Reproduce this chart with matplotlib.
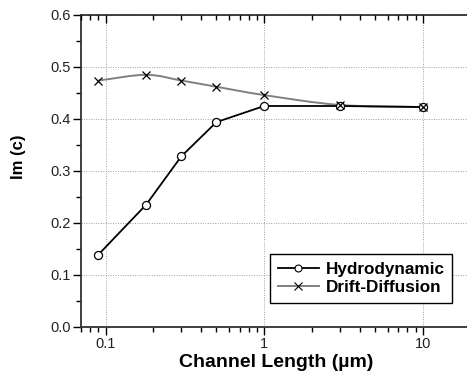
import numpy as np
import matplotlib
matplotlib.use("Agg")
import matplotlib.pyplot as plt
from matplotlib.path import Path
from matplotlib.patches import PathPatch
from matplotlib.lines import Line2D
from matplotlib.ticker import MultipleLocator, LogLocator, FixedLocator, NullFormatter

plt.rcParams['font.family'] = ['Liberation Sans', 'DejaVu Sans']

# channel length in um
length = [0.09, 0.18, 0.3, 0.5, 1.0, 3.0, 10.0]
hydro = [0.139, 0.235, 0.328, 0.394, 0.425, 0.425, 0.423]
drift = [0.474, 0.485, 0.474, 0.462, 0.446, 0.427, 0.423]

x_ticks = [0.1, 1, 10]
x_ticklabels = ["0.1", "1", "10"]


def smooth_path(xs, ys):
    """Catmull-Rom curve through the points, built in log-x space as cubic Beziers."""
    lx = np.log10(xs)
    y = np.asarray(ys, float)
    pts = np.column_stack([lx, y])
    ext = np.vstack([2 * pts[0] - pts[1], pts, 2 * pts[-1] - pts[-2]])
    verts = [pts[0]]
    codes = [Path.MOVETO]
    for i in range(1, len(ext) - 2):
        p0, p1, p2, p3 = ext[i - 1], ext[i], ext[i + 1], ext[i + 2]
        c1 = p1 + (p2 - p0) / 6.0
        c2 = p2 - (p3 - p1) / 6.0
        verts += [c1, c2, p2]
        codes += [Path.CURVE4] * 3
    verts = np.array(verts)
    verts[:, 0] = 10 ** verts[:, 0]
    return Path(verts, codes)


fig = plt.figure(figsize=(4.67, 3.73), dpi=100)
ax = fig.add_axes([81 / 467, 1 - 327 / 373, (470.5 - 81) / 467, 312 / 373])
ax.set_xscale("log")
ax.set_xlim(0.07, 20)
ax.set_ylim(0.0, 0.6)

ax.grid(True, which="major", color="#a0a0a0", linestyle=(0, (1, 1.5)), linewidth=0.7)
ax.set_axisbelow(True)

# drift-diffusion: smooth grey curve with x markers
ax.add_patch(PathPatch(smooth_path(length, drift), facecolor="none",
                       edgecolor="#808080", linewidth=1.4, zorder=2))
ax.plot(length, drift, linestyle="none", marker="x", markersize=6,
        markeredgecolor="black", markeredgewidth=0.9, zorder=4)

# hydrodynamic: straight segments with open circles
ax.plot(length, hydro, color="black", linewidth=1.3, marker="o", markersize=5.8,
        markerfacecolor="white", markeredgecolor="black", markeredgewidth=0.9, zorder=3)

ax.yaxis.set_major_locator(MultipleLocator(0.1))
ax.yaxis.set_minor_locator(MultipleLocator(0.05))
ax.xaxis.set_major_locator(FixedLocator(x_ticks))
ax.set_xticklabels(x_ticklabels)
ax.xaxis.set_minor_locator(LogLocator(base=10, subs=np.arange(2, 10)))
ax.xaxis.set_minor_formatter(NullFormatter())

ax.tick_params(axis="both", which="major", length=5.5, width=1, labelsize=10.5,
               direction="out", pad=2, labelcolor="#222222")
ax.tick_params(axis="both", which="minor", length=3.5, width=1, direction="out")
ax.set_yticklabels([f"{v:.1f}" for v in ax.get_yticks()])

for side in ("left", "top", "bottom"):
    ax.spines[side].set_color("#303030")
    ax.spines[side].set_linewidth(1.3)
ax.spines["right"].set_visible(False)

# top axis: ticks pointing inward, no labels
top = ax.twiny()
top.set_xscale("log")
top.set_xlim(ax.get_xlim())
top.xaxis.set_major_locator(FixedLocator(x_ticks))
top.xaxis.set_minor_locator(LogLocator(base=10, subs=np.arange(2, 10)))
top.xaxis.set_major_formatter(NullFormatter())
top.xaxis.set_minor_formatter(NullFormatter())
top.tick_params(axis="x", which="major", length=5.5, width=1, direction="in")
top.tick_params(axis="x", which="minor", length=3.5, width=1, direction="in")
for side in ("left", "right", "bottom", "top"):
    top.spines[side].set_visible(False)

ax.set_xlabel("Channel Length (\u00b5m)", fontsize=14, fontweight="bold", labelpad=2)
ax.set_ylabel("Im (c)", fontsize=12, fontweight="bold")
ax.yaxis.set_label_coords(-0.142, 0.545)

handles = [
    Line2D([], [], color="black", linewidth=1.3, marker="o", markersize=5,
           markerfacecolor="white", markeredgecolor="black", markeredgewidth=0.8),
    Line2D([], [], color="#808080", linewidth=1.4, marker="x", markersize=5.5,
           markeredgecolor="black", markeredgewidth=0.8),
]
leg = ax.legend(handles, ["Hydrodynamic", "Drift-Diffusion"], loc="lower right",
                bbox_to_anchor=(0.953, 0.078), borderaxespad=0, fancybox=False,
                framealpha=1, edgecolor="black", handlelength=2.4, handletextpad=0.4,
                prop={"weight": "bold", "size": 12.3}, labelspacing=0.2, borderpad=0.45)
leg.get_frame().set_linewidth(1.0)

fig.savefig("out.png", dpi=100)
